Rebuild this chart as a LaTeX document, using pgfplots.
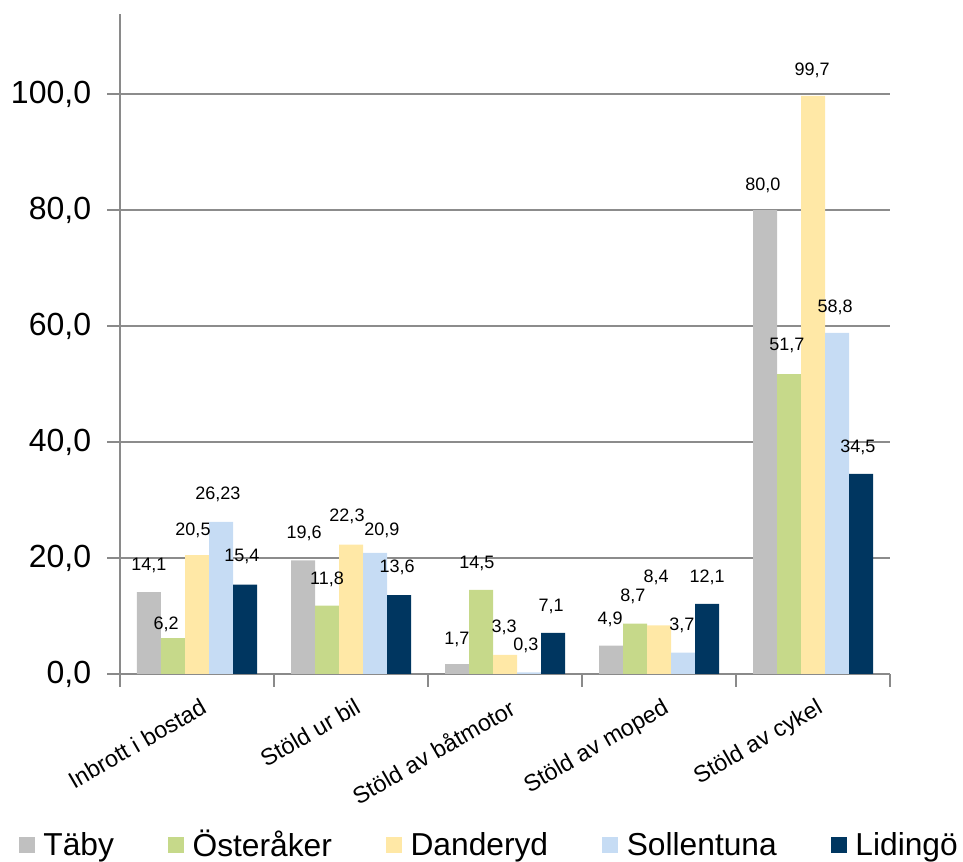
\documentclass[border=0pt]{standalone}
\usepackage{fontspec}
\setmainfont{Liberation Sans}
\usepackage{pgfplots}
\pgfplotsset{compat=1.18}
\definecolor{cTaby}{HTML}{C0C0C0}
\definecolor{cOster}{HTML}{C6D98A}
\definecolor{cDand}{HTML}{FFE8A6}
\definecolor{cSoll}{HTML}{C6DCF4}
\definecolor{cLid}{HTML}{003660}
\definecolor{axgray}{HTML}{8A8A8A}
\definecolor{gridgray}{HTML}{8C8C8C}
\begin{document}
\begin{tikzpicture}
\path[use as bounding box] (-90pt,-141pt) rectangle (632.25pt,505.5pt);
\begin{axis}[
  scale only axis, width=577.5pt, height=495pt,
  xmin=-0.5, xmax=4.5, ymin=0, ymax=113.8,
  axis x line*=bottom, axis y line*=left,
  axis line style={draw=axgray, line width=1.4pt, -},
  ybar, bar width=18pt,
  tick align=outside,
  major tick length=9.5pt,
  tick style={draw=axgray, line width=1.1pt},
  xtick={-0.5,0.5,1.5,2.5,3.5,4.5},
  xticklabels={},
  extra x ticks={0,1,2,3,4},
  extra x tick labels={Inbrott i bostad,Stöld ur bil,Stöld av båtmotor,Stöld av moped,Stöld av cykel},
  extra x tick style={major tick length=0pt, tick style={draw=none}},
  xticklabel style={rotate=30, anchor=north east, inner sep=0pt, yshift=-16pt, xshift=-7pt,
      font=\fontsize{17.5}{20}\selectfont},
  ytick={0,20,40,60,80,100},
  ymajorgrids,
  grid style={draw=gridgray, line width=1.1pt},
  yticklabel style={/pgf/number format/.cd, fixed, fixed zerofill, precision=1, use comma, assume math mode=true,
    /tikz/.cd, font=\fontsize{24}{28}\selectfont, inner sep=2pt, xshift=-10pt},
  legend style={at={(0.48,0)}, anchor=center, yshift=-128pt, draw=none, fill=none,
    legend columns=-1, font=\fontsize{23.8}{28}\selectfont,
    /tikz/every even column/.append style={column sep=38.5pt},
    /tikz/every odd column/.append style={column sep=0pt}},
  legend cell align=left,
  legend image code/.code={\fill[#1] (0pt,-6pt) rectangle (12pt,6pt); \path (16.5pt,0pt);},
]
\addplot[fill=cTaby, draw=none, bar shift=-36pt] coordinates {(0,14.1) (1,19.6) (2,1.7) (3,4.9) (4,80.0)};
\addplot[fill=cOster, draw=none, bar shift=-18pt] coordinates {(0,6.2) (1,11.8) (2,14.5) (3,8.7) (4,51.7)};
\addplot[fill=cDand, draw=none, bar shift=0pt] coordinates {(0,20.5) (1,22.3) (2,3.3) (3,8.4) (4,99.7)};
\addplot[fill=cSoll, draw=none, bar shift=18pt] coordinates {(0,26.23) (1,20.9) (2,0.3) (3,3.7) (4,58.8)};
\addplot[fill=cLid, draw=none, bar shift=36pt] coordinates {(0,15.4) (1,13.6) (2,7.1) (3,12.1) (4,34.5)};
\legend{Täby,Österåker,Danderyd,Sollentuna,Lidingö}
% data labels, positioned as in the reference
\addplot[draw=none, fill=none, bar shift=0pt, bar width=0.01pt, forget plot,
  point meta=explicit symbolic, nodes near coords,
  every node near coord/.append style={anchor=center, inner sep=0pt, text=black,
    font=\fontsize{13.5}{15}\selectfont}]
coordinates {
(-0.312,18.8) [14,1] (-0.201,8.6) [6,2] (-0.026,24.8) [20,5] (0.136,30.9) [26,23] (0.292,20.2) [15,4]
(0.695,24.3) [19,6] (0.844,16.4) [11,8] (0.974,27.1) [22,3] (1.201,24.7) [20,9] (1.299,18.4) [13,6]
(1.688,6.0) [1,7] (1.818,19.1) [14,5] (1.994,8.1) [3,3] (2.136,5.0) [0,3] (2.299,11.7) [7,1]
(2.682,9.5) [4,9] (2.831,13.3) [8,7] (2.981,16.6) [8,4] (3.149,8.4) [3,7] (3.312,16.6) [12,1]
(3.675,84.3) [80,0] (3.831,56.6) [51,7] (3.994,104.1) [99,7] (4.143,63.3) [58,8] (4.292,39.1) [34,5]
};
\end{axis}
\end{tikzpicture}
\end{document}
